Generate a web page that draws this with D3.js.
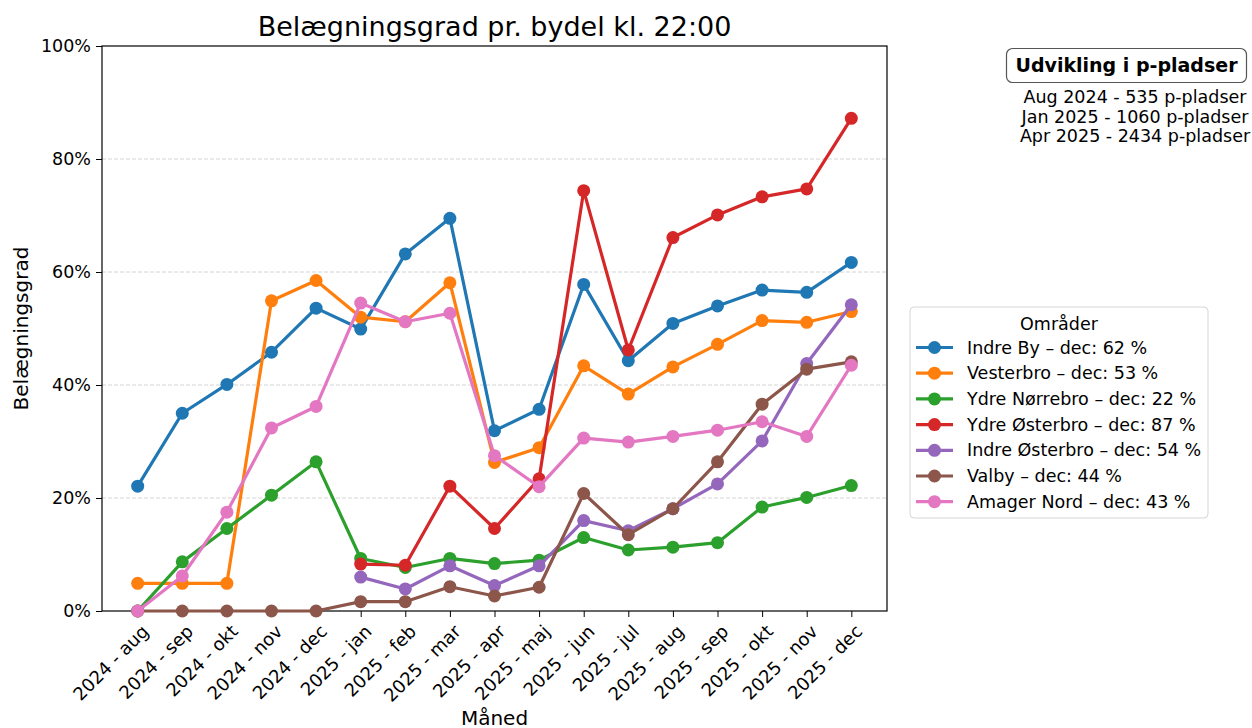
<!DOCTYPE html>
<html>
<head>
<meta charset="utf-8">
<script src="https://cdn.jsdelivr.net/npm/d3@7"></script>
<style>
  body { margin: 0; background: #fff; }
  svg text { font-family: "DejaVu Sans", sans-serif; fill: #000; }
</style>
</head>
<body>
<div id="chart"></div>
<script>
// months on the x axis
const months = ["2024 - aug", "2024 - sep", "2024 - okt", "2024 - nov", "2024 - dec",
  "2025 - jan", "2025 - feb", "2025 - mar", "2025 - apr", "2025 - maj", "2025 - jun",
  "2025 - jul", "2025 - aug", "2025 - sep", "2025 - okt", "2025 - nov", "2025 - dec"];

// occupancy per district in percent (null = no data)
const indreBy = [22.1, 35.0, 40.1, 45.8, 53.6, 49.9, 63.2, 69.5, 31.9, 35.7, 57.8, 44.3, 50.9, 54.0, 56.8, 56.4, 61.7];
const vesterbro = [4.9, 4.9, 4.9, 54.9, 58.5, 52.0, 51.2, 58.1, 26.3, 28.9, 43.4, 38.4, 43.2, 47.2, 51.4, 51.1, 53.0];
const ydreNorrebro = [0, 8.7, 14.6, 20.5, 26.4, 9.3, 7.7, 9.3, 8.4, 9.0, 13.0, 10.8, 11.3, 12.1, 18.4, 20.1, 22.2];
const ydreOsterbro = [null, null, null, null, null, 8.3, 8.1, 22.1, 14.6, 23.4, 74.4, 46.2, 66.1, 70.1, 73.3, 74.7, 87.2];
const indreOsterbro = [null, null, null, null, null, 6.0, 3.9, 8.0, 4.5, 8.0, 16.0, 14.2, 18.1, 22.5, 30.1, 43.8, 54.2];
const valby = [0, 0, 0, 0, 0, 1.65, 1.65, 4.3, 2.65, 4.2, 20.8, 13.5, 18.1, 26.4, 36.6, 42.8, 44.1];
const amagerNord = [0, 6.2, 17.5, 32.4, 36.2, 54.5, 51.2, 52.7, 27.5, 22.0, 30.6, 29.9, 30.9, 32.0, 33.5, 30.9, 43.5];

const seriesNames = ["Indre By", "Vesterbro", "Ydre Nørrebro", "Ydre Østerbro", "Indre Østerbro", "Valby", "Amager Nord"];
const seriesValues = [indreBy, vesterbro, ydreNorrebro, ydreOsterbro, indreOsterbro, valby, amagerNord];
const legendLabels = ["Indre By – dec: 62 %", "Vesterbro – dec: 53 %", "Ydre Nørrebro – dec: 22 %",
  "Ydre Østerbro – dec: 87 %", "Indre Østerbro – dec: 54 %", "Valby – dec: 44 %", "Amager Nord – dec: 43 %"];
const colors = ["#1f77b4", "#ff7f0e", "#2ca02c", "#d62728", "#9467bd", "#8c564b", "#e377c2"];

const yTicks = [0, 20, 40, 60, 80, 100];
const pladsLines = ["Aug 2024 - 535 p-pladser", "Jan 2025 - 1060 p-pladser", "Apr 2025 - 2434 p-pladser"];

const width = 1252, height = 728;
const plot = { left: 102, right: 887, top: 46, bottom: 611 };

const svg = d3.select("#chart").append("svg")
  .attr("width", width)
  .attr("height", height);

const step = (plot.right - plot.left) / (months.length - 1 + 1.6);
const x = d3.scalePoint()
  .domain(months)
  .range([plot.left + 0.8 * step, plot.right - 0.8 * step]);
const y = d3.scaleLinear().domain([0, 100]).range([plot.bottom, plot.top]);

// grid
svg.append("g")
  .selectAll("line")
  .data(yTicks.filter(d => d > 0 && d < 100))
  .enter().append("line")
  .attr("x1", plot.left).attr("x2", plot.right)
  .attr("y1", d => y(d)).attr("y2", d => y(d))
  .attr("stroke", "#cfcfcf")
  .attr("stroke-width", 0.9)
  .attr("stroke-dasharray", "4,2");

// y axis
const yAxis = d3.axisLeft(y).tickValues(yTicks).tickFormat(d => d + "%").tickSize(6).tickPadding(5);
svg.append("g")
  .attr("transform", "translate(" + plot.left + ",0)")
  .call(yAxis)
  .call(g => g.select(".domain").remove())
  .call(g => g.selectAll("text").style("font-size", "17.5px").attr("font-family", "DejaVu Sans"));

// x axis
const xAxis = d3.axisBottom(x).tickSize(6).tickPadding(4);
svg.append("g")
  .attr("transform", "translate(0," + plot.bottom + ")")
  .call(xAxis)
  .call(g => g.select(".domain").remove())
  .call(g => g.selectAll("text")
    .style("font-size", "18px")
    .attr("font-family", "DejaVu Sans")
    .attr("text-anchor", "end")
    .attr("dy", null)
    .attr("y", 0)
    .attr("transform", "translate(7,17) rotate(-45)")
    .attr("dominant-baseline", "central"));

// spines
svg.append("rect")
  .attr("x", plot.left).attr("y", plot.top)
  .attr("width", plot.right - plot.left).attr("height", plot.bottom - plot.top)
  .attr("fill", "none").attr("stroke", "#000").attr("stroke-width", 1.2);

// lines + markers
const line = d3.line()
  .defined(d => d.v !== null)
  .x(d => x(d.m))
  .y(d => y(d.v));

seriesValues.forEach(function(vals, i) {
  const pts = months.map((m, j) => ({ m: m, v: vals[j] }));
  const g = svg.append("g");
  g.append("path")
    .datum(pts)
    .attr("d", line)
    .attr("fill", "none")
    .attr("stroke", colors[i])
    .attr("stroke-width", 3.2)
    .attr("stroke-linejoin", "round");
  g.selectAll("circle")
    .data(pts.filter(d => d.v !== null))
    .enter().append("circle")
    .attr("cx", d => x(d.m))
    .attr("cy", d => y(d.v))
    .attr("r", 6.5)
    .attr("fill", colors[i]);
});

// title and axis labels
svg.append("text")
  .text("Belægningsgrad pr. bydel kl. 22:00")
  .attr("x", (plot.left + plot.right) / 2)
  .attr("y", 36)
  .attr("text-anchor", "middle")
  .style("font-size", "27px");

svg.append("text")
  .text("Belægningsgrad")
  .attr("transform", "translate(28," + (plot.top + plot.bottom) / 2 + ") rotate(-90)")
  .attr("text-anchor", "middle")
  .style("font-size", "20px");

svg.append("text")
  .text("Måned")
  .attr("x", (plot.left + plot.right) / 2)
  .attr("y", 725)
  .attr("text-anchor", "middle")
  .style("font-size", "20px");

// legend
const legend = svg.append("g").attr("id", "legend");
legend.append("rect")
  .attr("x", 910).attr("y", 307)
  .attr("width", 298).attr("height", 211)
  .attr("rx", 4)
  .attr("fill", "#fff")
  .attr("stroke", "#d6d6d6");
legend.append("text")
  .text("Områder")
  .attr("x", 1059).attr("y", 330)
  .attr("text-anchor", "middle")
  .style("font-size", "17.5px");
legendLabels.forEach(function(lbl, i) {
  const ly = 347.5 + i * 25.7;
  legend.append("line")
    .attr("x1", 916).attr("x2", 953)
    .attr("y1", ly).attr("y2", ly)
    .attr("stroke", colors[i]).attr("stroke-width", 3.2);
  legend.append("circle")
    .attr("cx", 934.5).attr("cy", ly).attr("r", 6.5)
    .attr("fill", colors[i]);
  legend.append("text")
    .text(lbl)
    .attr("x", 967).attr("y", ly)
    .attr("dominant-baseline", "central")
    .style("font-size", "17.5px");
});

// p-pladser note
const note = svg.append("g");
note.append("rect")
  .attr("x", 1006.5).attr("y", 48.5)
  .attr("width", 240).attr("height", 34)
  .attr("rx", 6)
  .attr("fill", "#fff")
  .attr("stroke", "#555")
  .attr("stroke-width", 1.2);
note.append("text")
  .text("Udvikling i p-pladser")
  .attr("x", 1126.5).attr("y", 71.5)
  .attr("text-anchor", "middle")
  .style("font-size", "19px")
  .style("font-weight", "bold");
pladsLines.forEach(function(t, i) {
  note.append("text")
    .text(t)
    .attr("x", 1135).attr("y", 103 + i * 19.5)
    .attr("text-anchor", "middle")
    .style("font-size", "17.5px");
});
</script>
</body>
</html>
